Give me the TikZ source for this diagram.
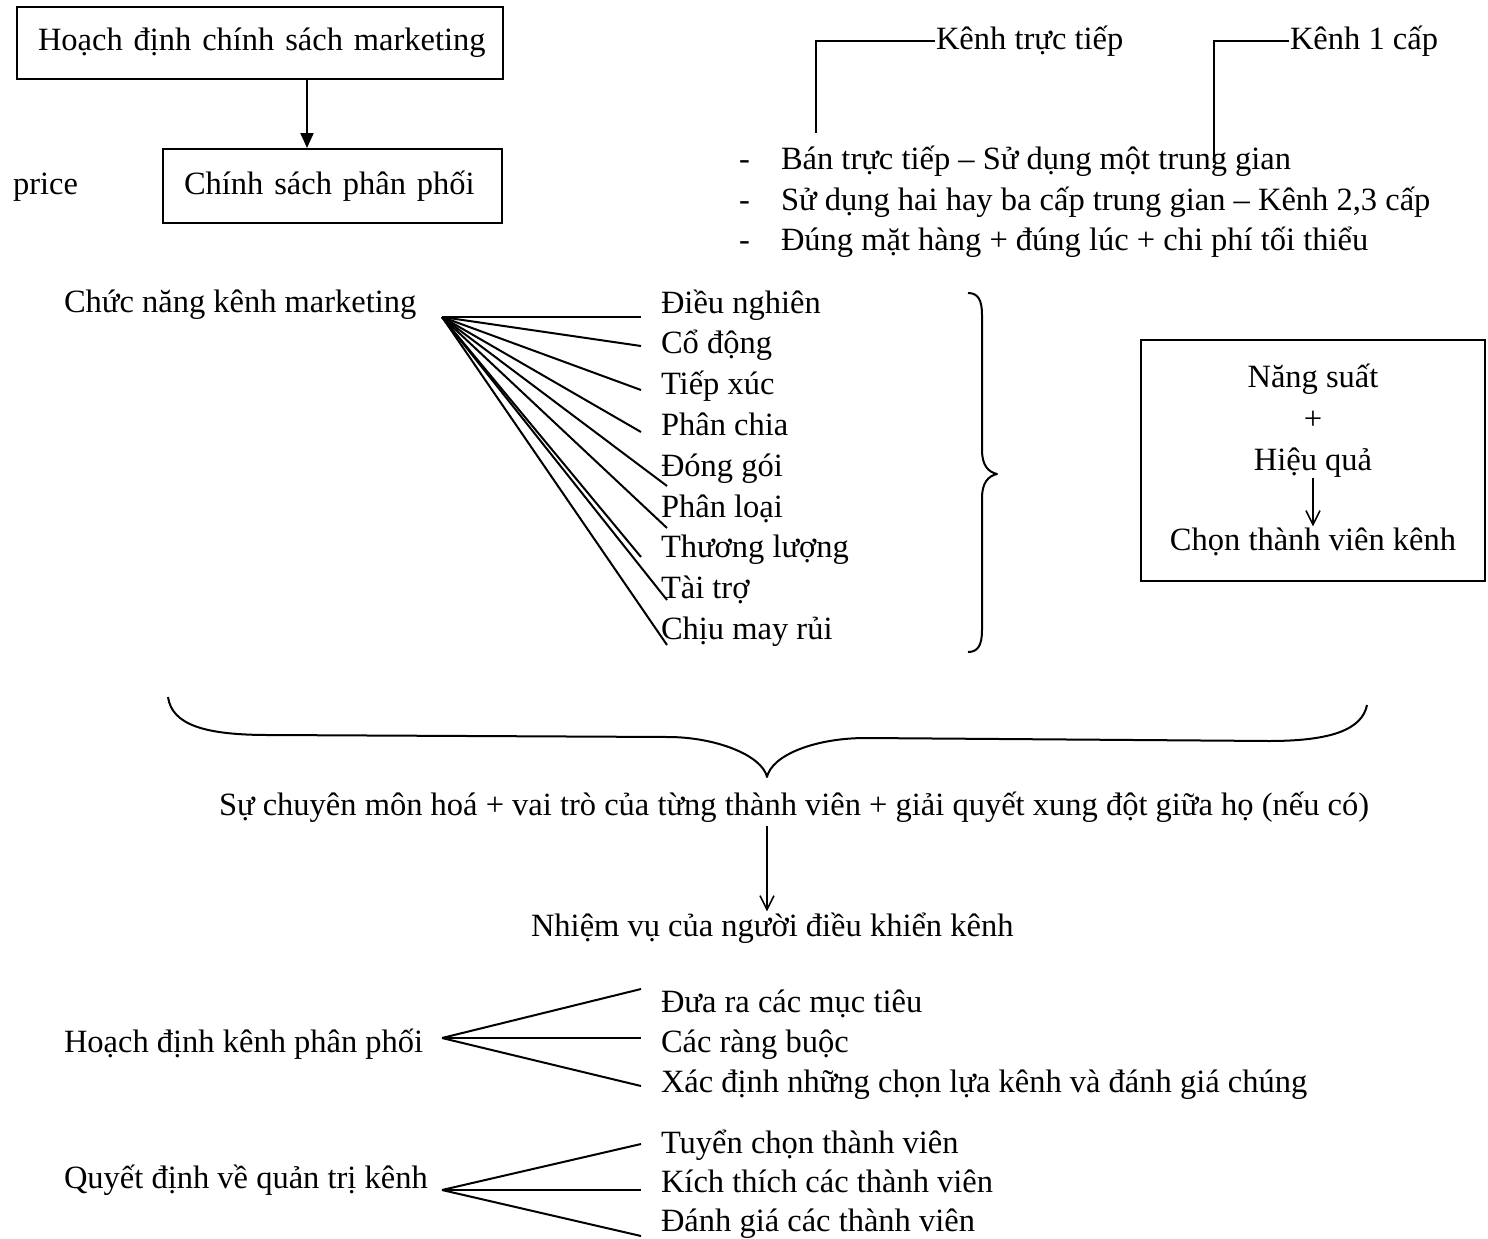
\documentclass[tikz,border=0pt]{standalone}
\usepackage{fontspec}
\setmainfont{Liberation Serif}
\usetikzlibrary{arrows.meta}
\newcommand{\txtfont}{\fontsize{32.5}{40}\selectfont}
\begin{document}
\begin{tikzpicture}[x=1pt,y=-1pt,line width=2pt,
  lbl/.style={anchor=base west,inner sep=0pt,font=\txtfont},
  clbl/.style={anchor=base,inner sep=0pt,font=\txtfont},
  framebox/.style={draw,line width=2pt,inner xsep=21pt,inner ysep=0pt,align=left,anchor=north west,font=\txtfont},
  link/.style={line width=2pt},
  thinarrow/.style={line width=1.6pt,-{Straight Barb[length=14pt,width=14pt,line width=1.6pt]}},
  solidarrow/.style={line width=2pt,-{Triangle[length=15pt,width=13pt]}},
  bracepath/.style={line width=2pt,line join=round}]
\useasboundingbox (0,0) rectangle (1488,1239);

% --- top left: policy boxes ---
\node[framebox,text width=444pt,minimum height=72pt] (b1) at (16,6) {\mbox{Hoạch định chính sách marketing}};
\node[framebox,text width=297pt,minimum height=74pt] (b2) at (162,148) {\mbox{Chính sách phân phối}};
\coordinate (ax1) at (307,0);
\draw[solidarrow] (b1.south -| ax1) -- (b2.north -| ax1);
\node[lbl] (price) at (12,194) {price};

% --- top right: channel types ---
\node[lbl] (ktt) at (935,49) {Kênh trực tiếp};
\node[lbl] (k1) at (1289,49) {Kênh 1 cấp};
\coordinate (c1) at (816,133);
\coordinate (c2) at (1214,163);
\draw[link] (ktt.west) -| (c1);
\draw[link] (k1.west) -| (c2);

\node[lbl] (d1) at (738,169) {-};
\node[lbl] (d2) at (738,210) {-};
\node[lbl] (d3) at (738,250) {-};
\node[lbl] (l1) at (780,169) {Bán trực tiếp – Sử dụng một trung gian};
\node[lbl] (l2) at (780,210) {Sử dụng hai hay ba cấp trung gian – Kênh 2,3 cấp};
\node[lbl] (l3) at (780,250) {Đúng mặt hàng + đúng lúc + chi phí tối thiểu};

% --- functions of the marketing channel ---
\node[lbl] (cn) at (63,312) {Chức năng kênh marketing};
\coordinate (fo) at (442,317);
\node[lbl] (i1) at (660,313.0) {Điều nghiên};
\node[lbl] (i2) at (660,353.8) {Cổ động};
\node[lbl] (i3) at (660,394.6) {Tiếp xúc};
\node[lbl] (i4) at (660,435.4) {Phân chia};
\node[lbl] (i5) at (660,476.2) {Đóng gói};
\node[lbl] (i6) at (660,517.0) {Phân loại};
\node[lbl] (i7) at (660,557.8) {Thương lượng};
\node[lbl] (i8) at (660,598.6) {Tài trợ};
\node[lbl] (i9) at (660,639.4) {Chịu may rủi};
\coordinate (e1) at (641,317);
\coordinate (e2) at (641,346);
\coordinate (e3) at (641,390);
\coordinate (e4) at (641,432);
\coordinate (e5) at (667,486);
\coordinate (e6) at (667,528);
\coordinate (e7) at (641,557);
\coordinate (e8) at (667,600);
\coordinate (e9) at (667,645);
\foreach \e in {e1,e2,e3,e4,e5,e6,e7,e8,e9}
  \draw[link] (fo) -- (\e);

% right brace
\draw[bracepath] (968,293) .. controls (978,293) and (982,300) .. (982,315)
  -- (982,450) .. controls (982,465) and (988,472) .. (997,474)
  .. controls (988,476) and (982,483) .. (982,498)
  -- (982,630) .. controls (982,645) and (978,652) .. (968,652);

% --- productivity box ---
\node[draw,line width=2pt,inner sep=0pt,anchor=north west,minimum width=344pt,minimum height=241pt] (rb) at (1140,339) {};
\node[clbl] (ns) at (1313,387) {Năng suất};
\node[clbl] (pl) at (1313,429) {+};
\node[clbl] (hq) at (1313,470) {Hiệu quả};
\node[clbl] (cv) at (1313,550) {Chọn thành viên kênh};
\draw[thinarrow] (hq) -- (cv);

% --- wide brace ---
\draw[bracepath] (168,697) .. controls (172,725) and (205,735) .. (269,735)
  -- (668,737) .. controls (715,737) and (762,755) .. (767,777)
  .. controls (772,755) and (815,738) .. (866,738)
  -- (1269,741) .. controls (1330,741) and (1362,730) .. (1367,705);

\node[lbl] (su) at (218,815) {Sự chuyên môn hoá + vai trò của từng thành viên + giải quyết xung đột giữa họ (nếu có)};
\node[lbl] (nv) at (530,936) {Nhiệm vụ của người điều khiển kênh};
\coordinate (ax2) at (767,0);
\draw[thinarrow,shorten <=3pt] (su.south -| ax2) -- (nv.north -| ax2);

% --- channel planning ---
\node[lbl] (hd) at (63,1052) {Hoạch định kênh phân phối};
\coordinate (go) at (442,1038);
\node[lbl] (h1) at (660,1012) {Đưa ra các mục tiêu};
\node[lbl] (h2) at (660,1052) {Các ràng buộc};
\node[lbl] (h3) at (660,1092) {Xác định những chọn lựa kênh và đánh giá chúng};
\coordinate (g1) at (641,989);
\coordinate (g2) at (641,1038);
\coordinate (g3) at (641,1086);
\foreach \e in {g1,g2,g3}
  \draw[link] (go) -- (\e);

% --- channel management ---
\node[lbl] (qd) at (63,1188) {Quyết định về quản trị kênh};
\coordinate (qo) at (442,1190);
\node[lbl] (q1) at (660,1153) {Tuyển chọn thành viên};
\node[lbl] (q2) at (660,1192) {Kích thích các thành viên};
\node[lbl] (q3) at (660,1231) {Đánh giá các thành viên};
\coordinate (r1) at (641,1144);
\coordinate (r2) at (641,1190);
\coordinate (r3) at (641,1236);
\foreach \e in {r1,r2,r3}
  \draw[link] (qo) -- (\e);
\end{tikzpicture}
\end{document}
